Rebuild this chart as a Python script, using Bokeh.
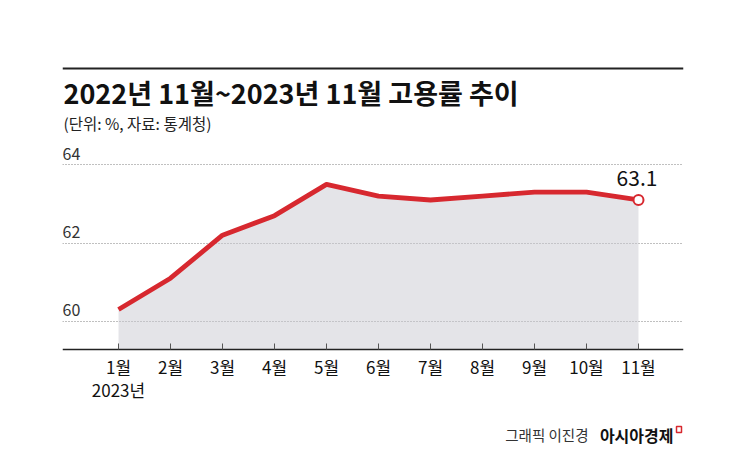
from bokeh.plotting import figure
from bokeh.models import Range1d, FixedTicker, Label, Span, Grid, LinearAxis, BoxAnnotation
from bokeh.embed import file_html
from bokeh.resources import INLINE

# ---- data ----
months = [1, 2, 3, 4, 5, 6, 7, 8, 9, 10, 11]
month_labels = ["1월", "2월", "3월", "4월", "5월", "6월", "7월", "8월", "9월", "10월", "11월"]
rate = [60.3, 61.1, 62.2, 62.7, 63.5, 63.2, 63.1, 63.2, 63.3, 63.3, 63.1]
y_ticks = [60, 62, 64]
title_text = "2022년 11월~2023년 11월 고용률 추이"
subtitle_text = "(단위: %, 자료: 통계청)"
year_text = "2023년"
credit_a = "그래픽 이진경"
credit_b = "아시아경제"

# ---- layout (canvas pixel geometry) ----
FL, FR, FT, FB = 62, 683, 0, 446
AXIS_Y = 349
X1, DX = 118, 52.0
Y60, K = 320.7, 39.1
C = 6  # alphabetic baseline correction


def xd(px):
    return 1 + (px - X1) / DX


def yd(py):
    return 60 + (Y60 - py) / K


FONT = "Noto Sans CJK KR"
RED = "#d7282f"

p = figure(frame_width=FR - FL, frame_height=FB - FT, output_backend="svg",
           toolbar_location=None,
           x_range=Range1d(xd(FL), xd(FR)), y_range=Range1d(yd(FB), yd(FT)),
           x_axis_location=None, y_axis_location=None,
           min_border_left=FL, min_border_right=729 - FR,
           min_border_top=0, min_border_bottom=0)
p.outline_line_color = None
p.background_fill_color = "white"
p.border_fill_color = "white"
p.xgrid.visible = False
p.ygrid.visible = False

grid = Grid(dimension=1, ticker=FixedTicker(ticks=y_ticks),
            grid_line_color="#808080", grid_line_dash="1 2", grid_line_width=1)
p.add_layout(grid, "center")

# area + line
p.varea(x=months, y1=rate, y2=yd(AXIS_Y), fill_color="#c8c8d0", fill_alpha=0.49)
p.line(months, rate, line_color=RED, line_width=4.8, line_join="round")
p.scatter([months[-1]], [rate[-1]], size=10, fill_color="white",
          line_color=RED, line_width=2)

# x axis drawn at the baseline
ax = LinearAxis(fixed_location=yd(AXIS_Y), ticker=FixedTicker(ticks=months))
ax.major_label_overrides = {m: lab for m, lab in zip(months, month_labels)}
ax.axis_line_color = "#222222"
ax.axis_line_width = 1.5
ax.major_tick_line_color = "#555555"
ax.major_tick_in = 6
ax.major_tick_out = 0
ax.minor_tick_line_color = None
ax.major_label_text_font = FONT
ax.major_label_text_font_size = "17px"
ax.major_label_text_color = "#111111"
ax.major_label_standoff = 4
p.add_layout(ax, "below")

p.add_layout(Label(x=months[-1], y=rate[-1], text=f"{rate[-1]}", text_align="center",
                   text_baseline="alphabetic", y_offset=22, x_offset=-1.5,
                   text_font=FONT, text_font_size="21px", text_color="#111111"))

# y tick labels
for t in y_ticks:
    p.add_layout(Label(x=xd(62), y=t, text=str(t), text_align="left",
                       text_baseline="alphabetic", y_offset=11,
                       text_font=FONT, text_font_size="16px", text_color="#333333"))

# top rule, title, subtitle
p.add_layout(Span(location=yd(68), dimension="width", line_color="#222222", line_width=2))
p.add_layout(Label(x=xd(63), y=yd(98 - C), text=title_text, text_align="left",
                   text_baseline="alphabetic", text_font=FONT, text_font_size="27px",
                   text_font_style="bold", text_color="#111111"))
p.add_layout(Label(x=xd(63), y=yd(128 - C), text=subtitle_text, text_align="left",
                   text_baseline="alphabetic", text_font=FONT, text_font_size="15.5px",
                   text_color="#222222"))

# year under first month
p.add_layout(Label(x=months[0], y=yd(395 - C), text=year_text, text_align="center",
                   text_baseline="alphabetic", text_font=FONT, text_font_size="17px",
                   text_color="#111111"))

# credits
p.add_layout(Label(x=xd(588), y=yd(440 - C), text=credit_a, text_align="right",
                   text_baseline="alphabetic", text_font=FONT, text_font_size="14.5px",
                   text_color="#333333"))
p.add_layout(Label(x=xd(673), y=yd(440 - C), text=credit_b, text_align="right",
                   text_baseline="alphabetic", text_font=FONT, text_font_size="16px",
                   text_font_style="bold", text_color="#111111"))
p.add_layout(BoxAnnotation(left=xd(676), right=xd(681), top=yd(426), bottom=yd(432),
                           fill_color="white", fill_alpha=1.0,
                           line_color=RED, line_width=1.5, line_alpha=1.0))

open("out.html", "w").write(file_html(p, INLINE))
